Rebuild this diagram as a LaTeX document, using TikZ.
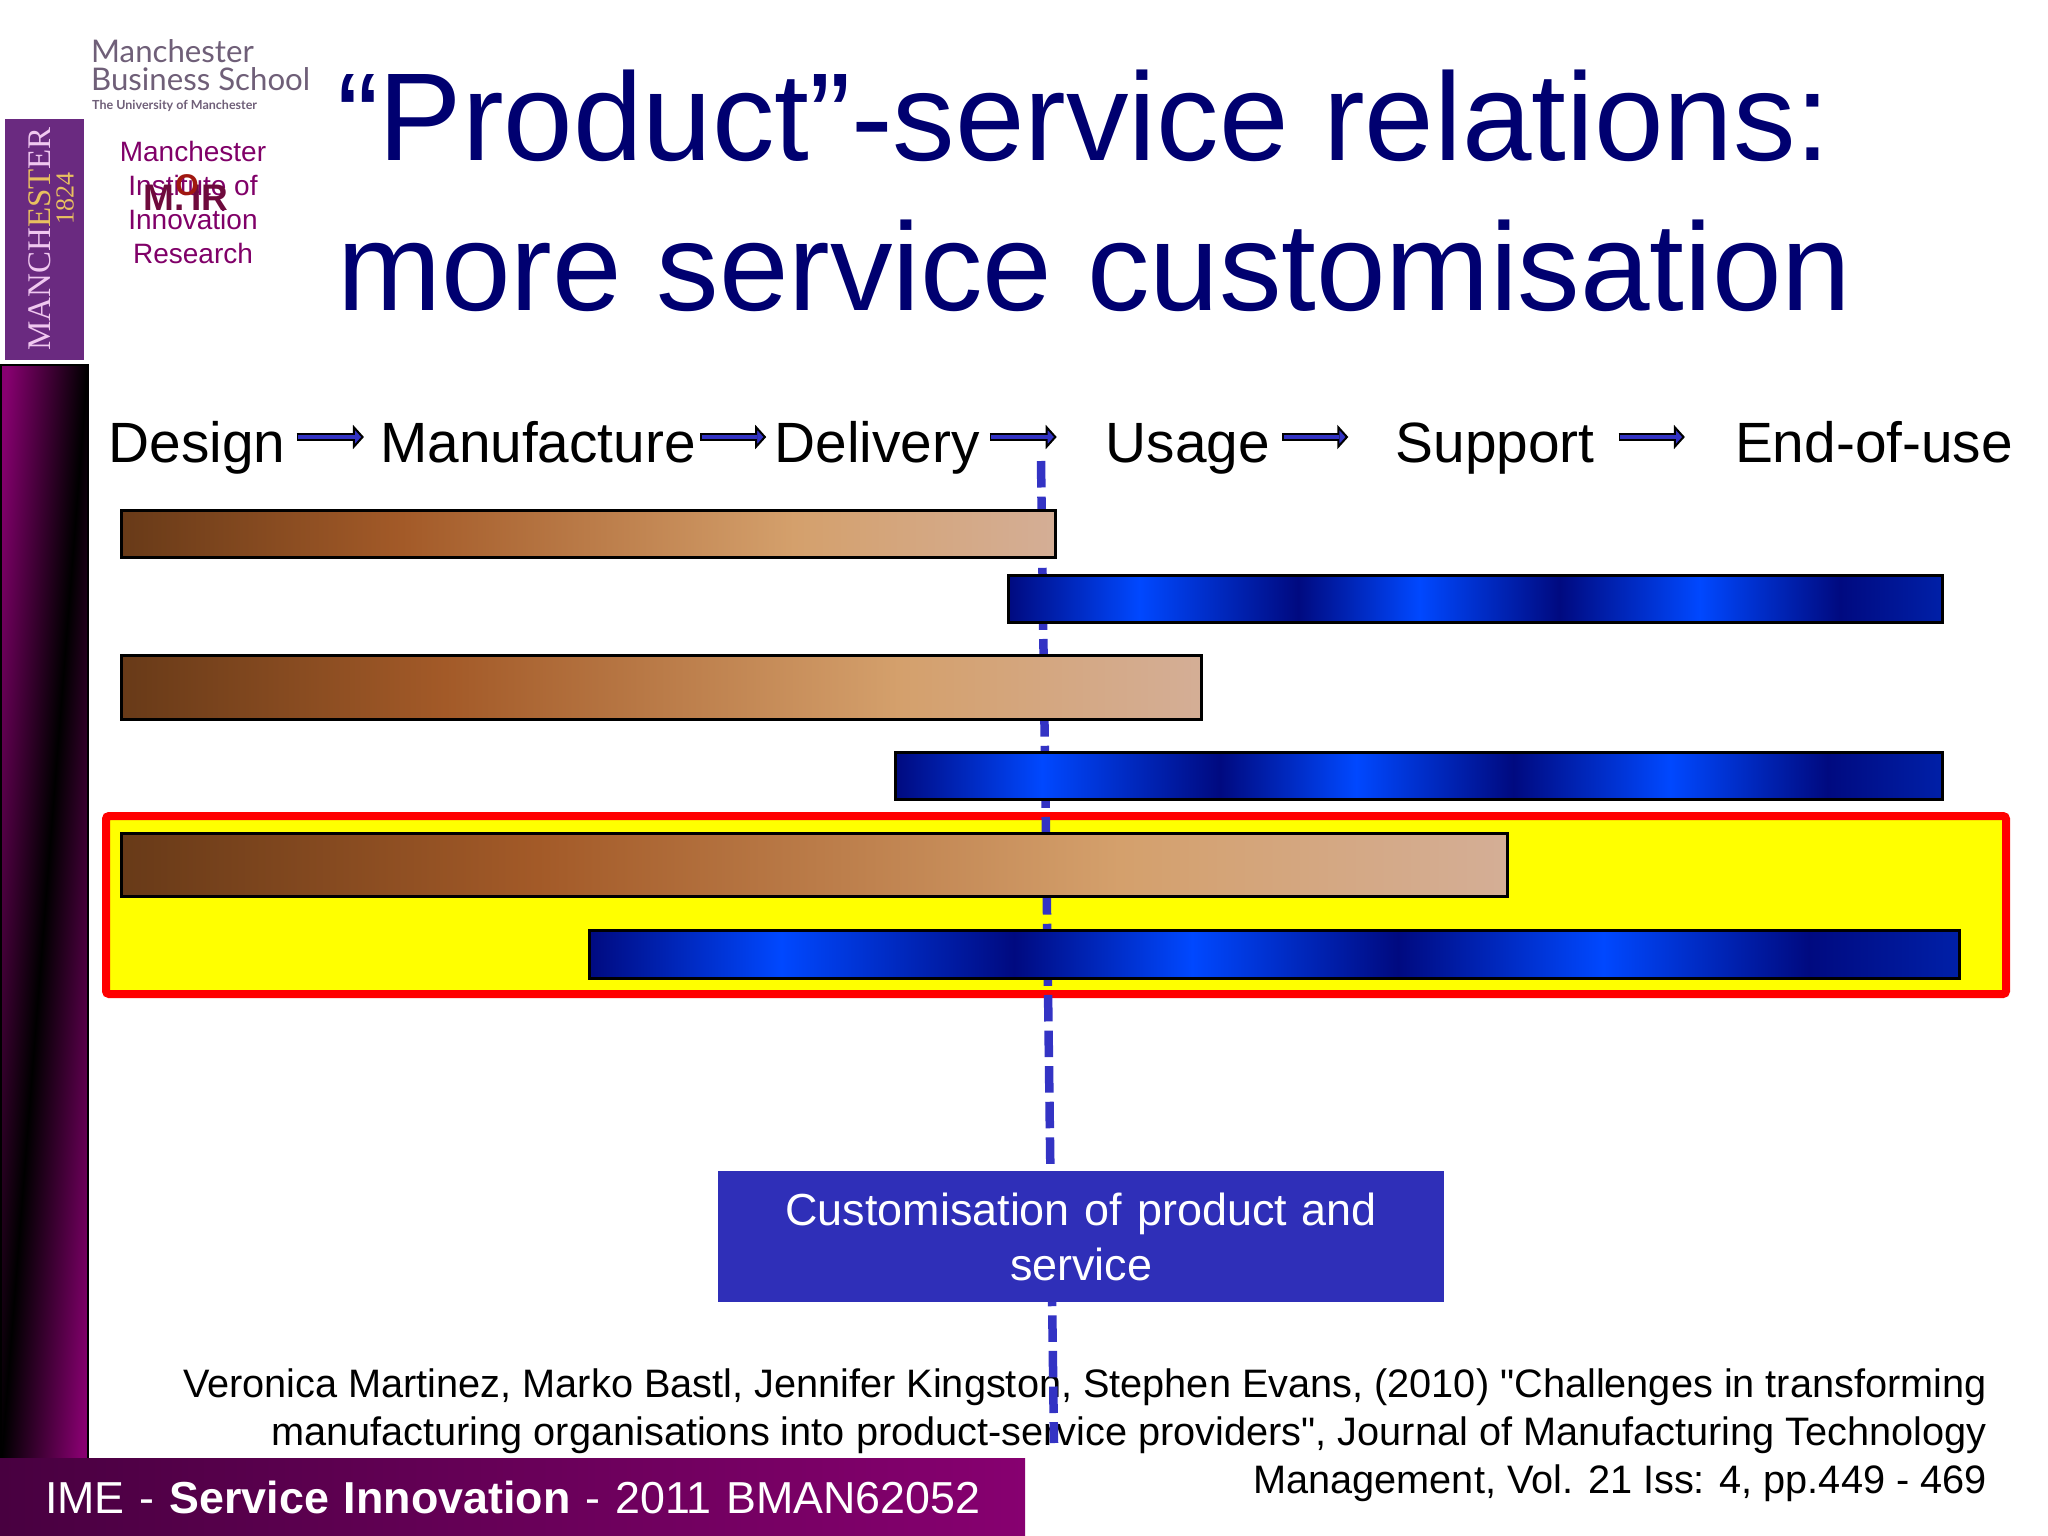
\documentclass[tikz,border=0pt]{standalone}
\usepackage{fontspec}
\setmainfont{Liberation Sans}
\newfontfamily\citefont{Liberation Sans}
\newfontfamily\crestfont{Liberation Serif}
\newfontfamily\schoolfont{Lato}
\usepackage{tikz}
\usetikzlibrary{arrows.meta}
\definecolor{titleblue}{HTML}{000070}
\definecolor{flowblue}{HTML}{3333C4}
\definecolor{boxblue}{HTML}{2F2FB8}
\definecolor{slidepurple}{HTML}{870070}
\definecolor{footdark}{HTML}{480040}
\definecolor{crestpurple}{HTML}{6A2A80}
\definecolor{crestpink}{HTML}{F0C8F0}
\definecolor{crestgold}{HTML}{E8C060}
\definecolor{schoolgrey}{HTML}{6F5F78}
\definecolor{miorpurple}{HTML}{800068}
\definecolor{miormark}{HTML}{6E0A3C}
\definecolor{miordot}{HTML}{A01810}
\definecolor{hiyellow}{RGB}{255,255,0}
\definecolor{hired}{RGB}{255,0,0}
\definecolor{brownA}{HTML}{683A18}
\definecolor{brownB}{HTML}{A35A28}
\definecolor{brownC}{HTML}{D4A06C}
\definecolor{brownD}{HTML}{D4AE96}
\definecolor{bluedark}{HTML}{000A80}
\definecolor{bluebright}{HTML}{0048FF}
\definecolor{bluemid}{HTML}{0020A8}
\newcommand{\pxfont}[2]{\fontsize{#1}{#2}\selectfont}
\pgfdeclarehorizontalshading{brownbar}{100bp}{
  color(0bp)=(brownA);color(25bp)=(brownA);
  color(40bp)=(brownB);color(61bp)=(brownC);
  color(75bp)=(brownD);color(100bp)=(brownD)}
\pgfdeclarehorizontalshading{bluebar}{100bp}{
  color(0bp)=(bluedark);color(25bp)=(bluedark);
  color(32bp)=(bluebright);color(40.5bp)=(bluedark);
  color(47bp)=(bluebright);color(54.5bp)=(bluedark);
  color(62bp)=(bluebright);color(69.5bp)=(bluedark);
  color(75bp)=(bluemid);color(100bp)=(bluemid)}
\tikzstyle{stage} = [inner sep=0pt, text height=50pt, text depth=0pt, font=\pxfont{56.8}{60}]
\tikzstyle{bar} = [rectangle, draw=black, line width=3pt, anchor=north west, inner sep=0pt]
\tikzset{
  line/.style n args = {2}{draw=black, line width=8pt, shorten <=#1, shorten >=#2,
    -{Triangle[length=11pt,width=24pt,line width=2pt,fill=flowblue]},
    postaction={draw=flowblue, line width=4.5pt, -, shorten <=#1+1.5pt, shorten >=#2+9pt}},
  brown/.style = {bar, shading=brownbar},
  blue/.style  = {bar, shading=bluebar},
  mior/.style  = {inner sep=0pt, text=miorpurple, align=center, font=\pxfont{28}{34}},
  school/.style = {inner sep=0pt, anchor=base west, text=schoolgrey}
}
\begin{document}
\begin{tikzpicture}[x=1pt,y=-1pt]
	\useasboundingbox (0,0) rectangle (2048,1536);
	% Logos
	\node [school, font=\schoolfont\pxfont{31.2}{34}] (schoolA) at (91,63) {Manchester};
	\node [school, font=\schoolfont\pxfont{31.2}{34}] (schoolB) at (91,91) {Business School};
	\node [school, font=\schoolfont\bfseries\pxfont{12.5}{12.5}] (schoolC) at (92,110) {The University of Manchester};
	\node [fill=crestpurple, anchor=north west, inner sep=0pt, minimum width=79pt, minimum height=241pt] (crest) at (5,119) {};
	\node [rotate=90, inner sep=0pt, text=crestpink, font=\crestfont\pxfont{33}{33}] (crestName) at (40,239) {MANCH\textcolor{crestgold}{EST}ER};
	\node [rotate=90, inner sep=0pt, text=crestgold, font=\crestfont\pxfont{26}{26}] (crestYear) at (65,198) {1824};
	\node [mior] (miorName) at (193,202) {Manchester\\Institute of\\Innovation\\Research};
	\node [inner sep=0pt, text=miormark, font=\bfseries\pxfont{37}{37}] (miorMark) at (186,198) {M.\,IR};
	\node [inner sep=0pt, text=miordot, font=\bfseries\pxfont{30}{30}] (miorDot) at (187,185) {O};
	% Title
	\node [anchor=north west, inner sep=0pt, align=left, text=titleblue, font=\pxfont{125}{150}] (title) at (337,70) {``Product''-service relations:\\more service customisation};
	% Side bar and footer
	\node [anchor=north west, inner sep=0pt, draw=black, line width=2pt, minimum width=87pt, minimum height=1094pt,
	  left color=slidepurple, right color=slidepurple, middle color=black, shading angle=85.5] (sidebar) at (0,364) {};
	\node [anchor=north west, inner sep=0pt, minimum width=1025pt, minimum height=78pt, left color=footdark, right color=slidepurple,
	  text=white, text width=1025pt, align=left, font=\pxfont{44.8}{50}] (footer) at (0,1458) {\hspace*{45pt}IME - \textbf{Service Innovation} - 2011 BMAN62052};
	% Stages
	\node [stage] (design) at (197,437) {Design};
	\node [stage, right of=design, node distance=341pt] (manufacture) {Manufacture};
	\node [stage, right of=manufacture, node distance=339pt] (delivery) {Delivery};
	\node [stage, right of=delivery, node distance=311pt] (usage) {Usage};
	\node [stage, right of=usage, node distance=307pt] (support) {Support};
	\node [stage, right of=support, node distance=379pt] (endofuse) {End-of-use};
	\path [line={11pt}{16pt}] (design) -- (manufacture);
	\path [line={4pt}{8pt}] (manufacture) -- (delivery);
	\path [line={10pt}{49pt}] (delivery) -- (usage);
	\path [line={12pt}{47pt}] (usage) -- (support);
	\path [line={24pt}{50pt}] (support) -- (endofuse);
	% Citation
	\node [anchor=north east, inner sep=0pt, align=right, font=\citefont\pxfont{39.7}{47.8}] (citation) at (1987,1369) {Veronica Martinez, Marko Bastl, Jennifer Kingston, Stephen Evans, (2010) "Challenges in transforming\\manufacturing organisations into product-service providers", Journal of Manufacturing Technology\\Management, Vol. 21 Iss: 4, pp.449 - 469};
	% Highlight and dashed line
	\node [anchor=north west, inner sep=0pt, draw=hired, fill=hiyellow, line width=8pt, rounded corners=3pt, minimum width=1900pt, minimum height=178pt] (highlight) at (102,812) {};
	\coordinate (custTop) at (1041,461);
	\coordinate (custEnd) at (1054,1443);
	\draw [flowblue, line width=8.5pt, dash pattern=on 26.5pt off 9.1pt] (custTop) -- (custEnd);
	% Bars
	\node [brown, minimum width=934pt, minimum height=47pt] (productA) at (120,509) {};
	\node [blue, minimum width=934pt, minimum height=47pt] (serviceA) at (1007,574) {};
	\node [brown, minimum width=1080pt, minimum height=64pt] (productB) at (120,654) {};
	\node [blue, minimum width=1047pt, minimum height=47pt] (serviceB) at (894,751) {};
	\node [brown, minimum width=1386pt, minimum height=63pt] (productC) at (120,832) {};
	\node [blue, minimum width=1370pt, minimum height=48pt] (serviceC) at (588,929) {};
	% Label
	\node [anchor=north west, inner sep=0pt, fill=boxblue, text=white, minimum width=726pt, minimum height=131pt, text width=726pt, align=center, font=\pxfont{44.9}{55}] (custLabel) at (718,1171) {Customisation of product and\\service};
\end{tikzpicture}
\end{document}
